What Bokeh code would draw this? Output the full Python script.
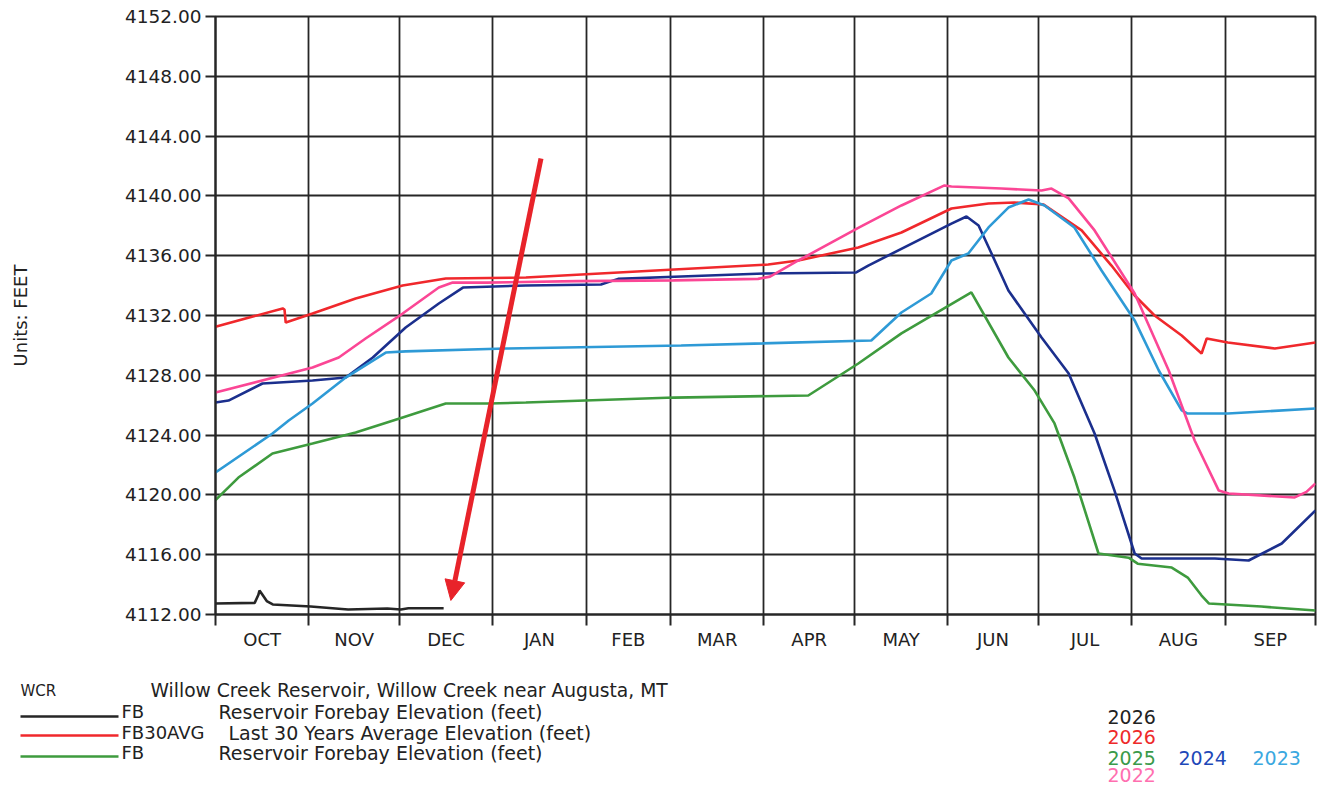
from bokeh.plotting import figure
from bokeh.models import Range1d, FixedTicker, PrintfTickFormatter, Arrow, NormalHead
from bokeh.layouts import column
from bokeh.embed import file_html
from bokeh.resources import INLINE
from bokeh.core.properties import value

# ---------------- data ----------------
MONTHS = ["OCT", "NOV", "DEC", "JAN", "FEB", "MAR", "APR", "MAY", "JUN", "JUL", "AUG", "SEP"]
MONTH_DAYS = [31, 30, 31, 31, 28, 31, 30, 31, 30, 31, 31, 30]
Y_TICKS = [4112, 4116, 4120, 4124, 4128, 4132, 4136, 4140, 4144, 4148, 4152]

# x = day of water year (0 = Oct 1), y = elevation (feet)
day_2026 = [0, 13, 14.2, 14.6, 15.3, 17, 19, 31.6, 44, 57, 61.5, 64, 75.7]
elev_2026 = [4112.74, 4112.78, 4113.3, 4113.6, 4113.4, 4112.9, 4112.67, 4112.53, 4112.33,
             4112.4, 4112.33, 4112.42, 4112.42]

day_avg = [0, 22.3, 22.9, 23.3, 32.2, 46.5, 62.1, 76.4, 103, 152.2, 183.4, 193.4, 213.3,
           227.6, 244.2, 256.5, 265.1, 274.8, 287.4, 297.3, 305, 311.6, 320.6, 327.2,
           328.9, 335.9, 351.5, 365]
elev_avg = [4131.25, 4132.47, 4132.4, 4131.53, 4132.13, 4133.14, 4134.01, 4134.47, 4134.54,
            4135.08, 4135.41, 4135.68, 4136.55, 4137.55, 4139.16, 4139.49, 4139.56, 4139.42,
            4137.69, 4135.34, 4133.34, 4132.0, 4130.66, 4129.46, 4130.46, 4130.19, 4129.79,
            4130.19]

day_2025 = [0, 7.6, 18.9, 32.2, 46.5, 62.1, 76.4, 90.7, 103, 152.2, 196.7, 213.3, 227.6,
            250.8, 263.1, 271.8, 278.4, 285, 293, 303, 306, 317.3, 322.6, 327.2, 329.6, 347, 365]
elev_2025 = [4119.65, 4121.16, 4122.77, 4123.44, 4124.17, 4125.18, 4126.11, 4126.11, 4126.18,
             4126.51, 4126.65, 4128.79, 4130.8, 4133.54, 4129.19, 4126.98, 4124.78, 4121.16,
             4116.08, 4115.8, 4115.4, 4115.14, 4114.47, 4113.27, 4112.74, 4112.53, 4112.27]

day_2024 = [0, 4.3, 15.6, 32.2, 43.2, 52.2, 63.1, 74.1, 82.1, 103, 127.9, 133.6, 154.5, 182,
            212.6, 216.6, 244.2, 249.2, 253.2, 257.5, 263.1, 274.1, 283.1, 291.7, 298.3, 305,
            307.3, 331.6, 342.8, 353.8, 365]
elev_2024 = [4126.18, 4126.31, 4127.45, 4127.65, 4127.85, 4129.19, 4131.2, 4132.8, 4133.87,
             4134.01, 4134.07, 4134.45, 4134.61, 4134.81, 4134.88, 4135.34, 4138.15, 4138.62,
             4138.02, 4136.15, 4133.67, 4130.53, 4128.12, 4124.11, 4120.29, 4116.08, 4115.75,
             4115.75, 4115.61, 4116.75, 4118.96]

day_2023 = [0, 18.9, 24.3, 32.2, 43.2, 56.5, 63.1, 96.3, 154.5, 217.6, 227.6, 237.5, 244.2,
            249.8, 256.5, 263.1, 269.8, 275.1, 285, 294, 305, 313, 320.6, 322.6, 335.9, 365]
elev_2023 = [4121.5, 4124.11, 4124.98, 4126.11, 4127.85, 4129.52, 4129.6, 4129.79, 4129.99,
             4130.33, 4132.2, 4133.47, 4135.68, 4136.15, 4137.89, 4139.22, 4139.76, 4139.36,
             4137.89, 4135.01, 4131.67, 4128.32, 4125.65, 4125.44, 4125.44, 4125.78]

day_2022 = [0, 32.2, 40.9, 49.8, 62.1, 74.1, 78.7, 90, 120, 152, 180, 184, 193.4, 213.6,
            227.6, 241.9, 244.2, 260.8, 274.1, 277.4, 283.1, 291.7, 305, 316.3, 324.9, 332.9,
            336.2, 358.1, 362, 365]
elev_2022 = [4126.85, 4128.52, 4129.19, 4130.46, 4132.13, 4133.87, 4134.21, 4134.2, 4134.3,
             4134.35, 4134.45, 4134.6, 4135.68, 4137.89, 4139.36, 4140.7, 4140.63, 4140.49,
             4140.36, 4140.49, 4139.83, 4137.69, 4133.47, 4128.32, 4123.64, 4120.29, 4120.09,
             4119.83, 4120.2, 4120.76]

# hand-drawn red arrow (data units)
ARROW_START = (108, 4142.5)
ARROW_END = (78.1, 4112.94)

LEGEND_TITLE = ("WCR", "Willow Creek Reservoir, Willow Creek near Augusta, MT")
LEGEND_ROWS = [("FB", "Reservoir Forebay Elevation (feet)"),
               ("FB30AVG", "Last 30 Years Average Elevation (feet)"),
               ("FB", "Reservoir Forebay Elevation (feet)")]
YEAR_LABELS = ["2026", "2026", "2025", "2024", "2023", "2022"]

# ---------------- styles ----------------
C_BLACK = "#262626"
C_AVG = "#f0282c"
C_2025 = "#3e9b3e"
C_2024 = "#1b2f8d"
C_2023 = "#2e9ad6"
C_2022 = "#fb4695"
GRID = "#262626"
FONT = "DejaVu Sans"

W = 1325
H1 = 668
H2 = 116
FRAME_L, FRAME_T, FRAME_R, FRAME_B = 215, 16, 1315, 614

p = figure(width=W, height=H1, output_backend="svg", toolbar_location=None,
           x_range=Range1d(0, 365), y_range=Range1d(4112, 4152),
           min_border_left=FRAME_L, min_border_right=W - FRAME_R,
           min_border_top=FRAME_T, min_border_bottom=H1 - FRAME_B)
p.frame_align = False
p.background_fill_color = "white"
p.border_fill_color = "white"
p.outline_line_color = GRID
p.outline_line_width = 2

bounds = [0]
for d in MONTH_DAYS:
    bounds.append(bounds[-1] + d)
centers = [(bounds[i] + bounds[i + 1]) / 2 for i in range(12)]

p.xaxis.ticker = FixedTicker(ticks=centers, minor_ticks=bounds)
p.xaxis.major_label_overrides = {c: m for c, m in zip(centers, MONTHS)}
p.xaxis.major_tick_out = 0
p.xaxis.major_tick_in = 0
p.xaxis.minor_tick_out = 11
p.xaxis.minor_tick_in = 0
p.xaxis.minor_tick_line_color = GRID
p.xaxis.minor_tick_line_width = 2
p.xaxis.axis_line_color = GRID
p.xaxis.axis_line_width = 2
p.xaxis.major_label_standoff = 3
p.xaxis.major_label_text_font = FONT
p.xaxis.major_label_text_font_size = "18px"
p.xaxis.major_label_text_color = "#222222"

p.yaxis.ticker = FixedTicker(ticks=Y_TICKS)
p.yaxis.formatter = PrintfTickFormatter(format="%.2f")
p.yaxis.minor_tick_line_color = None
p.yaxis.major_tick_out = 10
p.yaxis.major_tick_in = 0
p.yaxis.major_tick_line_color = GRID
p.yaxis.major_tick_line_width = 2
p.yaxis.axis_line_color = GRID
p.yaxis.axis_line_width = 2
p.yaxis.major_label_standoff = 4
p.yaxis.major_label_text_font = FONT
p.yaxis.major_label_text_font_size = "18.5px"
p.yaxis.major_label_text_color = "#222222"
p.yaxis.axis_label = "Units: FEET"
p.yaxis.axis_label_text_font = FONT
p.yaxis.axis_label_text_font_size = "18px"
p.yaxis.axis_label_text_font_style = "normal"
p.yaxis.axis_label_text_color = "#222222"
p.yaxis.axis_label_standoff = 91

p.xgrid.ticker = FixedTicker(ticks=bounds)
p.ygrid.ticker = FixedTicker(ticks=Y_TICKS)
for g in (p.xgrid, p.ygrid):
    g.grid_line_color = GRID
    g.grid_line_width = 1.8
    g.grid_line_alpha = 1

LW = 2.6
p.line(day_avg, elev_avg, line_color=C_AVG, line_width=LW)
p.line(day_2025, elev_2025, line_color=C_2025, line_width=LW)
p.line(day_2024, elev_2024, line_color=C_2024, line_width=LW)
p.line(day_2023, elev_2023, line_color=C_2023, line_width=LW)
p.line(day_2022, elev_2022, line_color=C_2022, line_width=LW)
p.line(day_2026, elev_2026, line_color=C_BLACK, line_width=LW)

p.add_layout(Arrow(x_start=ARROW_START[0], y_start=ARROW_START[1],
                   x_end=ARROW_END[0], y_end=ARROW_END[1],
                   line_color="#e8232a", line_width=5,
                   end=NormalHead(size=20, fill_color="#e8232a", line_color="#e8232a")))

# ---------------- legend strip (coordinates = page pixels) ----------------
q = figure(width=W, height=H2, output_backend="svg", toolbar_location=None,
           x_range=Range1d(0, W), y_range=Range1d(H1 + H2, H1),
           min_border=0, min_border_left=0, min_border_right=0,
           min_border_top=0, min_border_bottom=0,
           x_axis_location=None, y_axis_location=None)
q.frame_align = False
q.outline_line_color = None
q.xgrid.visible = False
q.ygrid.visible = False
q.background_fill_color = "white"
q.border_fill_color = "white"

def txt(x, y, s, color="#222222", size="19px"):
    q.text([x], [y], text=[s], text_font=value(FONT), text_font_size=size,
           text_color=color, text_baseline="middle", text_align="left")

txt(20, 690, LEGEND_TITLE[0], size="15px")
txt(150, 690, LEGEND_TITLE[1], size="18.7px")
row_y = [711, 732, 752]
line_y = [716, 735, 756]
row_cols = [C_BLACK, C_AVG, C_2025]
text_x = [218, 228, 218]
for (code, desc), ty, ly, col, tx in zip(LEGEND_ROWS, row_y, line_y, row_cols, text_x):
    q.segment(x0=[20], y0=[ly], x1=[118], y1=[ly], line_color=col, line_width=2.6)
    txt(121, ty, code, size="18px")
    txt(tx, ty, desc, size="19px")

year_pos = [(1107, 716), (1107, 736), (1107, 757), (1178, 757), (1252, 757), (1107, 774)]
year_cols = ["#222222", "#ee2a2a", "#3a9a4a", "#1e48b8", "#3aa8e0", "#ff6fb0"]
for s, (x, y), col in zip(YEAR_LABELS, year_pos, year_cols):
    txt(x, y, s, color=col, size="19px")

layout = column(p, q, spacing=0)
open("out.html", "w").write(file_html(layout, INLINE))
